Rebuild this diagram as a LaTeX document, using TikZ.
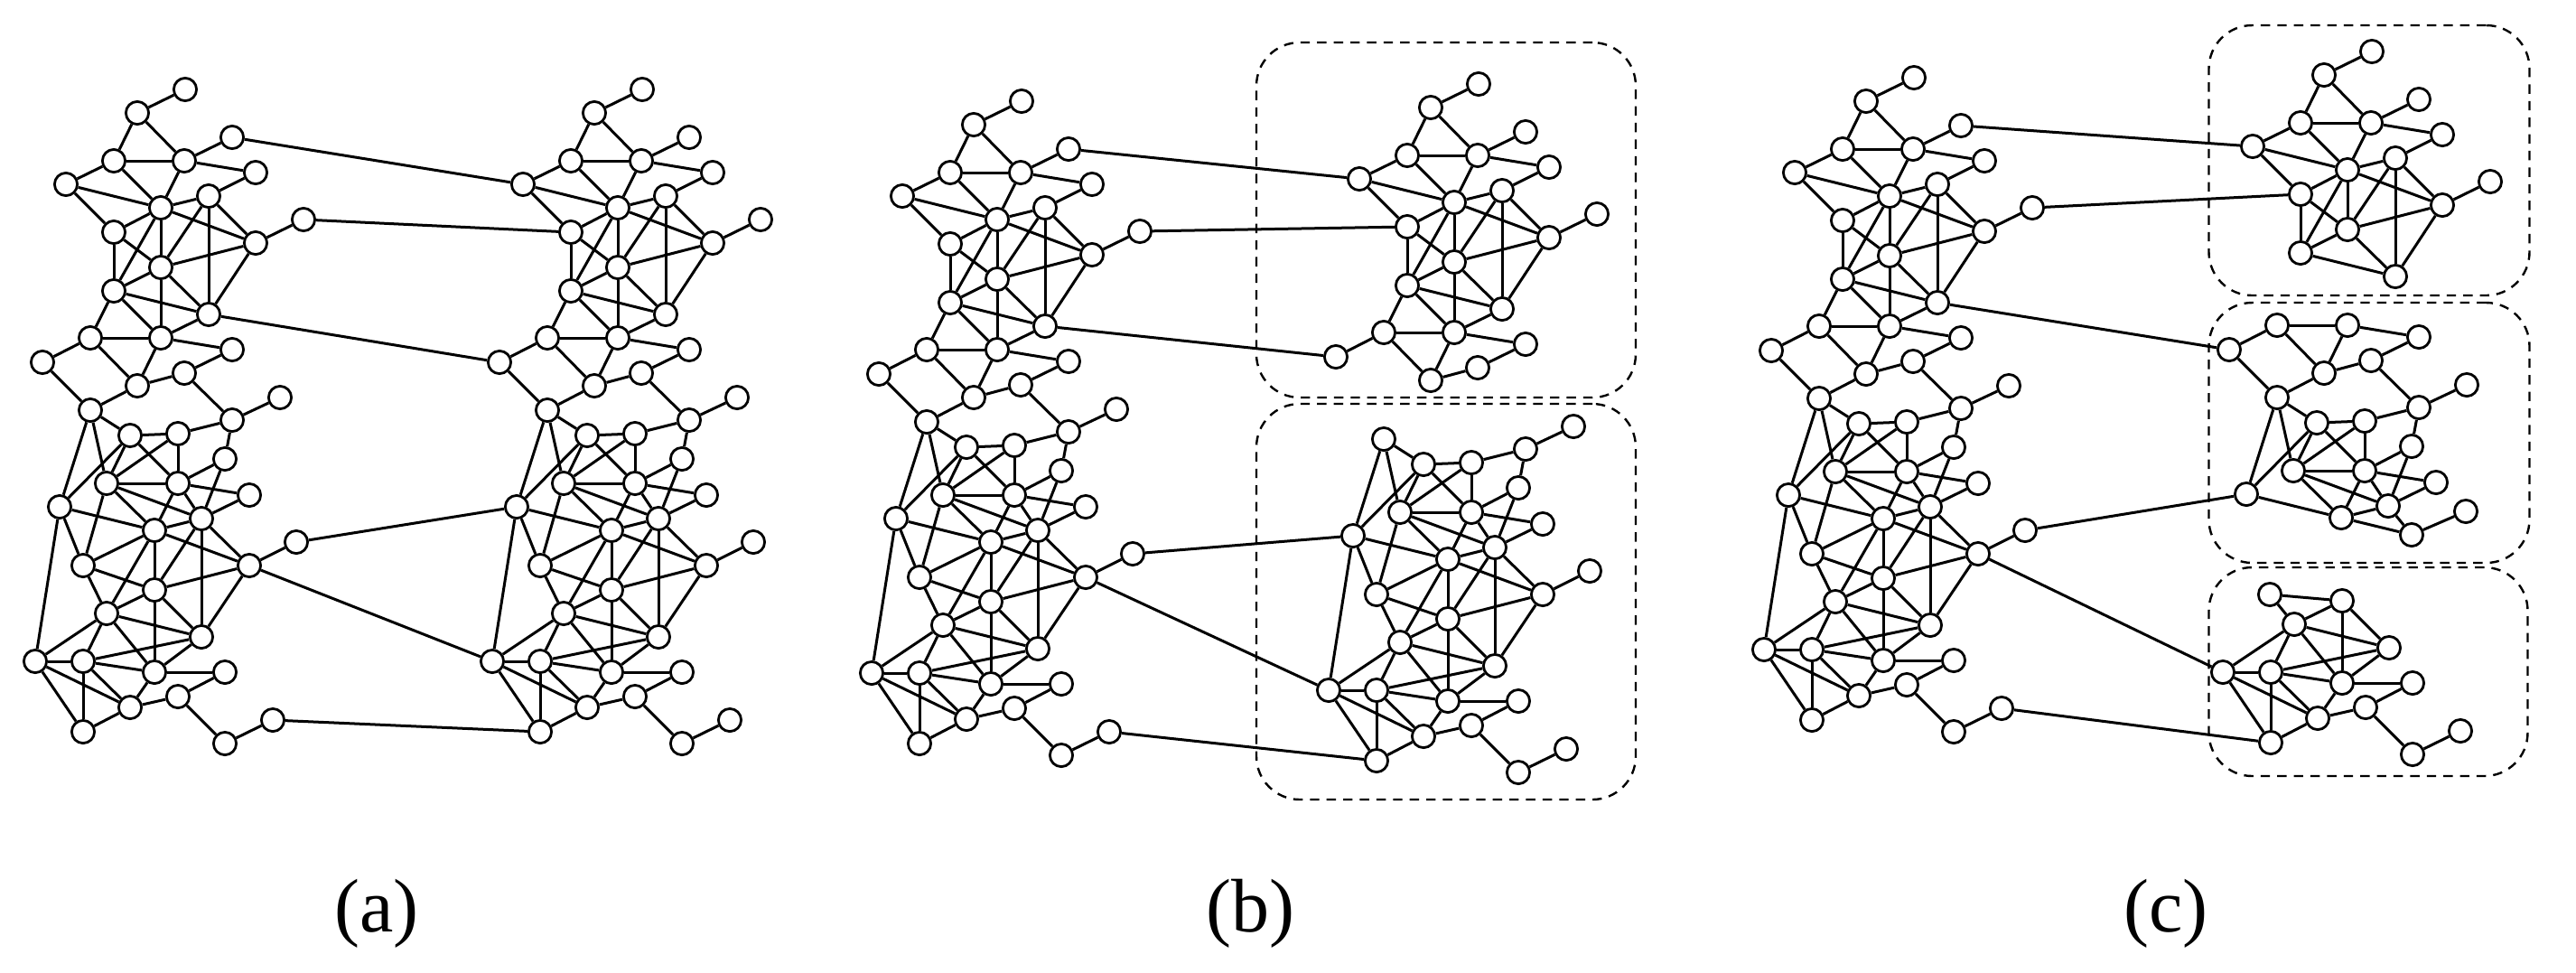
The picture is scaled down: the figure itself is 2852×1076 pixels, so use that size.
\documentclass[tikz,border=0pt]{standalone}
\usepackage{fontspec}
\setmainfont{Liberation Serif}
\def\GAone{A1/205/99,A2/152/125,A3/257/152,A4/126/178,A5/204/178,A6/283/191,A7/73/204,A8/231/217,A9/178/230,A10/336/243,A11/126/257,A12/283/269,A13/178/296,A14/126/322,A15/231/348}
\def\GAtwo{A16/100/374,A17/178/374,A18/257/387,A19/47/401,A20/204/413,A21/152/427}
\def\GBone{A22/310/440,A23/100/454,A24/257/465,B2/144/482,B3/197/480,B4/249/508,B5/118/535,B6/197/535,B7/276/548,B8/66/561,B9/223/574,B10/171/587}
\def\GBthr{B11/328/600,B13/276/626}
\def\GBtw{B12/92/626}
\def\GBtwo{B14/171/653,B15/118/679,B16/223/705,B17/39/732,B18/92/732,B19/171/744,B20/249/744,B21/197/771,B22/144/783,B23/92/810,B24/249/823,B25/302/797}
\def\EOne{A1/A2,A2/A4,A2/A5,A4/A5,A5/A3,A5/A6,A4/A7,A4/A9,A7/A9,A7/A11,A5/A9,A9/A8,A8/A6,A9/A11,A9/A12,A9/A14,A9/A13,A8/A13,A8/A12,A8/A15,A12/A10,A12/A13,A12/A15,A11/A13,A11/A14,A13/A14,A13/A15,A14/A15}
\def\ETwo{A14/A16,A14/A17,A13/A17,A15/A17}
\def\EThree{A16/A17,A16/A19,A16/A21,A17/A21,A17/A18,A18/A20,A20/A21}
\def\EFour{A19/A23,A21/A23,A20/A24}
\def\EFive{A24/A22,A23/B2,A23/B8,A23/B5,B2/B3,B3/A24,A24/B4,B3/B6,B3/B5,B2/B6,B2/B8,B2/B5,B5/B6,B6/B4,B4/B9,B6/B7,B6/B9,B6/B10,B5/B9,B5/B10,B8/B10,B9/B7,B9/B10,B9/B13,B10/B13,B13/B11}
\def\ESix{B5/B12,B8/B12,B8/B17,B10/B12,B10/B15,B10/B14,B9/B14,B9/B16,B13/B14,B13/B16}
\def\ESeven{B12/B14,B12/B15,B14/B15,B14/B16,B14/B19,B15/B16,B15/B17,B15/B18,B15/B19,B16/B18,B16/B19,B17/B18,B17/B22,B17/B23,B18/B19,B18/B22,B18/B23,B19/B20,B19/B22,B22/B21,B21/B20,B21/B24,B22/B23,B24/B25}
\def\EInter{A3/A7,A10/A11,A15/A19,B11/B8,B13/B17,B25/B23}
\newcommand\vset[4]{\foreach \n/\x/\y in #4 {\node[vx] (#1\n) at (\x+#2,\y+#3) {};}}
\newcommand\eset[2]{\foreach \u/\w in #2 {\draw[ed] (#1\u)--(#1\w);}}
\newcommand\iset[2]{\foreach \u/\w in \EInter {\draw[ed] (#1\u)--(#2\w);}}
\begin{document}
\begin{tikzpicture}[x=0.25pt,y=-0.25pt,
  vx/.style={circle,draw,fill=white,line width=0.7pt,minimum size=6.3pt,inner sep=0pt},
  ed/.style={line width=0.75pt},
  grp/.style={draw,line width=0.6pt,dash pattern=on 2.6pt off 2pt,rounded corners=12pt},
  lab/.style={font=\fontsize{21}{24}\selectfont}]
\useasboundingbox (0,0) rectangle (2852,1076);
% ---------- full-graph macros
\newcommand\fullgraph[3]{%
  \vset{#1}{#2}{#3}{\GAone}\vset{#1}{#2}{#3}{\GAtwo}\vset{#1}{#2}{#3}{\GBone}%
  \vset{#1}{#2}{#3}{\GBthr}\vset{#1}{#2}{#3}{\GBtw}\vset{#1}{#2}{#3}{\GBtwo}%
  \eset{#1}{\EOne}\eset{#1}{\ETwo}\eset{#1}{\EThree}\eset{#1}{\EFour}%
  \eset{#1}{\EFive}\eset{#1}{\ESix}\eset{#1}{\ESeven}}
% (a)
\fullgraph{aL}{0}{0}
\fullgraph{aR}{506}{0}
\iset{aL}{aR}
% (b)
\fullgraph{bL}{926}{13}
\vset{bR}{1432}{-6}{\GAone}\vset{bR}{1432}{-6}{\GAtwo}
\vset{bR}{1432}{32}{\GBone}\vset{bR}{1432}{32}{\GBthr}\vset{bR}{1432}{32}{\GBtw}\vset{bR}{1432}{32}{\GBtwo}
\eset{bR}{\EOne}\eset{bR}{\ETwo}\eset{bR}{\EThree}
\eset{bR}{\EFive}\eset{bR}{\ESix}\eset{bR}{\ESeven}
\iset{bL}{bR}
\node[grp,minimum width=105pt,minimum height=98.25pt] (bbox1) at (1601,243.5) {};
\node[grp,minimum width=105pt,minimum height=109.5pt] (bbox2) at (1601,666) {};
% (c)
\fullgraph{cL}{1914}{-13}
\vset{cR}{2421}{-42}{\GAone}
\vset{cR}{2421}{-14}{\GAtwo}\vset{cR}{2421}{-14}{\GBone}
\node[vx] (cRB11) at (2730,566) {};
\node[vx] (cRB13) at (2670,592) {};
\node[vx] (cRB12) at (2513,658) {};
\vset{cR}{2422}{12}{\GBtwo}
\eset{cR}{\EOne}\eset{cR}{\EThree}\eset{cR}{\EFour}\eset{cR}{\EFive}\eset{cR}{\ESeven}
\iset{cL}{cR}
\node[grp,minimum width=88.75pt,minimum height=74.75pt] (cbox1) at (2623,177.5) {};
\node[grp,minimum width=88.75pt,minimum height=72pt] (cbox2) at (2623,479) {};
\node[grp,minimum width=88.25pt,minimum height=57.75pt] (cbox3) at (2622,743.5) {};
% labels
\node[lab] (la) at (417,1011) {(a)};
\node[lab] (lb) at (1384,1011) {(b)};
\node[lab] (lc) at (2398,1011) {(c)};
\end{tikzpicture}
\end{document}
